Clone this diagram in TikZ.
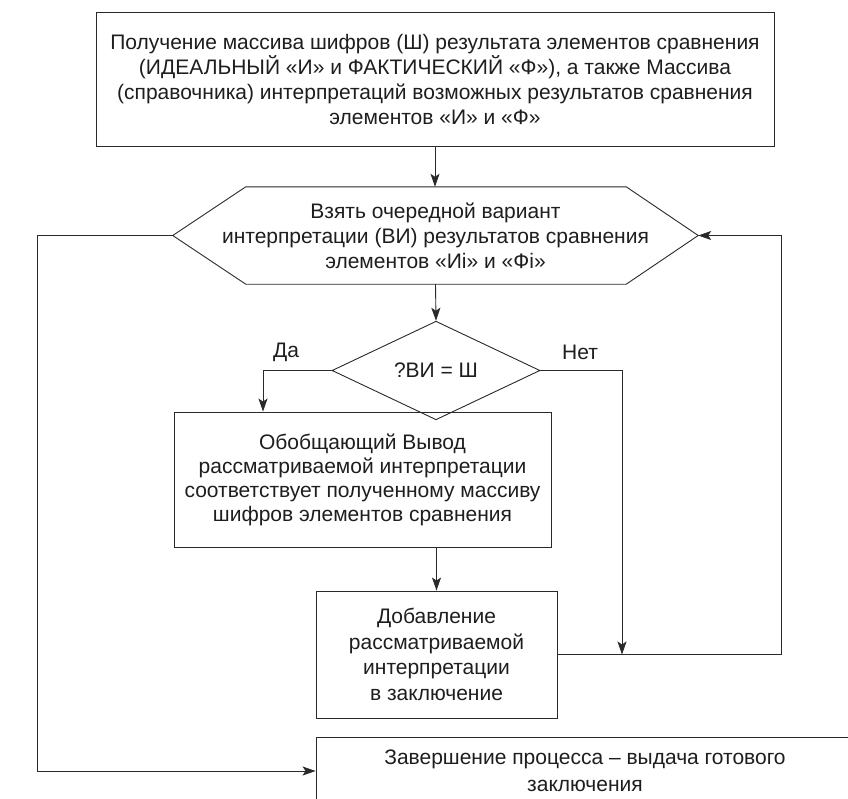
\documentclass[tikz,border=0pt]{standalone}
\usepackage{fontspec}
\setmainfont{Liberation Sans}
\usetikzlibrary{arrows.meta,shapes.geometric,calc}
\definecolor{ln}{HTML}{2a2a2a}
\definecolor{tx}{HTML}{1e1e1e}
\tikzset{
  box/.style={draw=ln, line width=0.9pt, rectangle, inner sep=0pt, align=center, text=tx,
    font=\fontsize{21}{25}\selectfont},
  arr/.style={draw=ln, line width=0.9pt, -{Stealth[length=13pt,width=9pt,inset=3pt]}},
  ln/.style={draw=ln, line width=0.9pt},
  lbl/.style={text=tx, font=\fontsize{21}{25}\selectfont, inner sep=0pt}
}
\begin{document}
\begin{tikzpicture}[x=1pt,y=-1pt]
\clip (0,0) rectangle (848,798);
\fill[white] (0,0) rectangle (848,798);

% top box
\node[box, minimum width=678pt, minimum height=134pt] (top) at (435,79)
 {Получение массива шифров (Ш) результата элементов сравнения\\
  (ИДЕАЛЬНЫЙ «И» и ФАКТИЧЕСКИЙ «Ф»), а также Массива\\
  (справочника) интерпретаций возможных результатов сравнения\\
  элементов «И» и «Ф»};

% hexagon
\node[rectangle, inner sep=0pt, minimum width=525pt, minimum height=97pt, align=center, text=tx,
  font=\fontsize{21}{25}\selectfont] (hex) at (435.5,235.5)
 {Взять очередной вариант\\
  интерпретации (ВИ) результатов сравнения\\
  элементов «Иi» и «Фi»};
\draw[ln] (hex.west) -- ([xshift=73pt]hex.north west) -- ([xshift=-72pt]hex.north east)
  -- (hex.east) -- ([xshift=-72pt]hex.south east) -- ([xshift=73pt]hex.south west) -- cycle;

% decision
\node[diamond, draw=ln, line width=0.9pt, inner sep=0pt, minimum width=208pt, minimum height=81pt,
  text=tx, font=\fontsize{21}{25}\selectfont] (dia) at (436,370.5) {?ВИ = Ш};

% box 2
\node[box, minimum width=377pt, minimum height=135pt, font=\fontsize{21}{24}\selectfont] (b2) at (362.5,479.5)
 {Обобщающий Вывод\\
  рассматриваемой интерпретации\\
  соответствует полученному массиву\\
  шифров элементов сравнения};

% box 3
\node[box, minimum width=241pt, minimum height=127pt, font=\fontsize{21}{25.5}\selectfont] (b3) at (436.5,654.5)
 {Добавление\\
  рассматриваемой\\
  интерпретации\\
  в заключение};

% end box
\node[box, minimum width=538pt, minimum height=68pt, font=\fontsize{21}{27}\selectfont] (endb) at (585,771)
 {Завершение процесса – выдача готового\\
  заключения};

% labels
\node[lbl] (da) at (286,352) {Да};
\node[lbl] (net) at (580,352) {Нет};

% helper coordinates
\coordinate (ya) at (263,0);
\coordinate (nj) at (622,654.5);
\coordinate (rc) at (781,235.5);
\coordinate (lc) at (37,235.5);

% connectors
\draw[arr] (top.south) -- (top.south |- hex.north);
\draw[arr] (hex.south) -- (dia.north);
\draw[arr] (dia.west) -| (ya |- b2.north);
\draw[arr] (b3.north |- b2.south) -- (b3.north);
\draw[arr] (dia.east) -| (nj);
\draw[arr] (b3.east) -| (rc) -- (hex.east);
\draw[arr] (hex.west) -- (lc) |- (endb.west);
\end{tikzpicture}
\end{document}
